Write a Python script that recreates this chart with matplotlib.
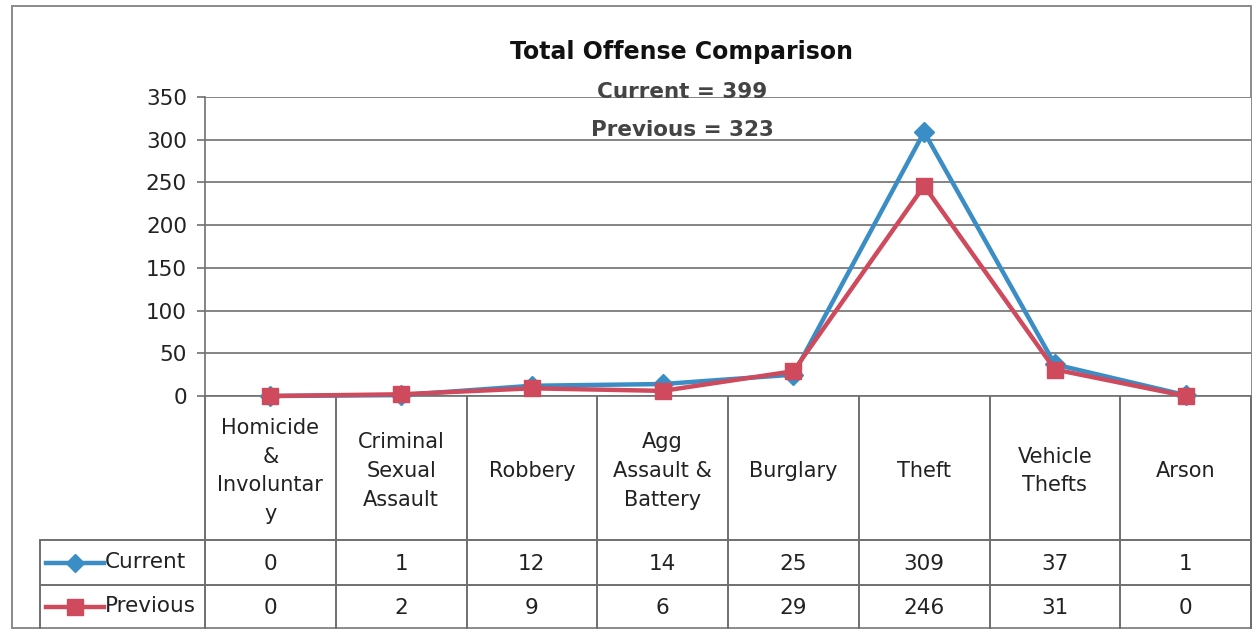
import matplotlib
matplotlib.use("Agg")
import matplotlib.pyplot as plt
from matplotlib.lines import Line2D
from matplotlib.patches import Rectangle

plt.rcParams["font.family"] = ["DejaVu Sans"]

categories = ["Homicide\n&\nInvoluntar\ny", "Criminal\nSexual\nAssault", "Robbery",
              "Agg\nAssault &\nBattery", "Burglary", "Theft", "Vehicle\nThefts", "Arson"]
current = [0, 1, 12, 14, 25, 309, 37, 1]
previous = [0, 2, 9, 6, 29, 246, 31, 0]
yticks = [0, 50, 100, 150, 200, 250, 300, 350]
title = "Total Offense Comparison"
subtitle = ["Current = 399", "Previous = 323"]

W, H = 1252, 630
BLUE = "#3A8DC5"
RED = "#CE4A5C"
GRID = "#6f6f6f"
TXT = "#222222"

# pixel layout
PL, PR, PT, PB = 205, 1251, 97, 396     # plot area
TL = 40                                  # left edge of legend cells
ROW1, ROW2, TB = 540, 585, 628           # table rows


def fx(px):
    return px / W


def fy(py):
    return 1 - py / H


fig = plt.figure(figsize=(W / 100, H / 100), dpi=100)

ax = fig.add_axes([fx(PL), fy(PB), fx(PR) - fx(PL), fy(PT) - fy(PB)])
n = len(categories)
x = list(range(n))
ax.plot(x, current, color=BLUE, lw=3.2, marker="D", ms=10, zorder=3, clip_on=False)
ax.plot(x, previous, color=RED, lw=3.2, marker="s", ms=12, zorder=4, clip_on=False)
ax.set_xlim(-0.5, n - 0.5)
ax.set_ylim(0, 350)
ax.set_yticks(yticks)
ax.tick_params(axis="y", labelsize=15.5, length=6, width=1.2, color=GRID, pad=7,
               labelcolor=TXT)
ax.set_xticks([])
ax.grid(axis="y", color=GRID, lw=1.2)
ax.set_axisbelow(True)
for s in ["top", "right"]:
    ax.spines[s].set_visible(False)
ax.spines["left"].set_color(GRID)
ax.spines["left"].set_linewidth(1.2)
ax.spines["bottom"].set_color(GRID)
ax.spines["bottom"].set_linewidth(1.2)

# data table drawn in figure pixel space
tab = fig.add_axes([0, 0, 1, 1], zorder=-1)
tab.set_xlim(0, W)
tab.set_ylim(H, 0)
tab.axis("off")
cw = (PR - PL) / n
lc = dict(color=GRID, lw=1.4)
for i in range(n + 1):
    xp = PL + i * cw
    tab.plot([xp, xp], [PB, TB], **lc)
tab.plot([TL, PR], [ROW1, ROW1], **lc)
tab.plot([TL, PR], [ROW2, ROW2], **lc)
tab.plot([TL, TL], [ROW1, TB], **lc)

for i, cat in enumerate(categories):
    cx = PL + (i + 0.5) * cw
    tab.text(cx, (PB + ROW1) / 2 + 3, cat, ha="center", va="center", fontsize=15,
             linespacing=1.55, color=TXT)
    tab.text(cx, (ROW1 + ROW2) / 2 + 2, str(current[i]), ha="center", va="center",
             fontsize=15.5, color=TXT)
    tab.text(cx, (ROW2 + TB) / 2 + 2, str(previous[i]), ha="center", va="center",
             fontsize=15.5, color=TXT)

for (ry, col, mk, ms, lab) in [((ROW1 + ROW2) / 2, BLUE, "D", 9, "Current"),
                                ((ROW2 + TB) / 2, RED, "s", 12, "Previous")]:
    tab.add_line(Line2D([46, 104], [ry, ry], color=col, lw=3.2))
    tab.plot([75], [ry], marker=mk, ms=ms, color=col)
    tab.text(105, ry, lab, ha="left", va="center", fontsize=15.5, color=TXT)

# outer chart border
tab.add_patch(Rectangle((12, 6), W - 13, TB - 6, fill=False, ec="#8a8a8a", lw=1.4))

fig.text(fx(682), fy(52), title, ha="center", va="center", fontsize=17,
         fontweight="bold", color="#111111")
fig.text(fx(682), fy(92), subtitle[0], ha="center", va="center", fontsize=15.5,
         fontweight="bold", color="#444444")
fig.text(fx(682), fy(130), subtitle[1], ha="center", va="center", fontsize=15.5,
         fontweight="bold", color="#444444")

fig.savefig("out.png", dpi=100, facecolor="white")
